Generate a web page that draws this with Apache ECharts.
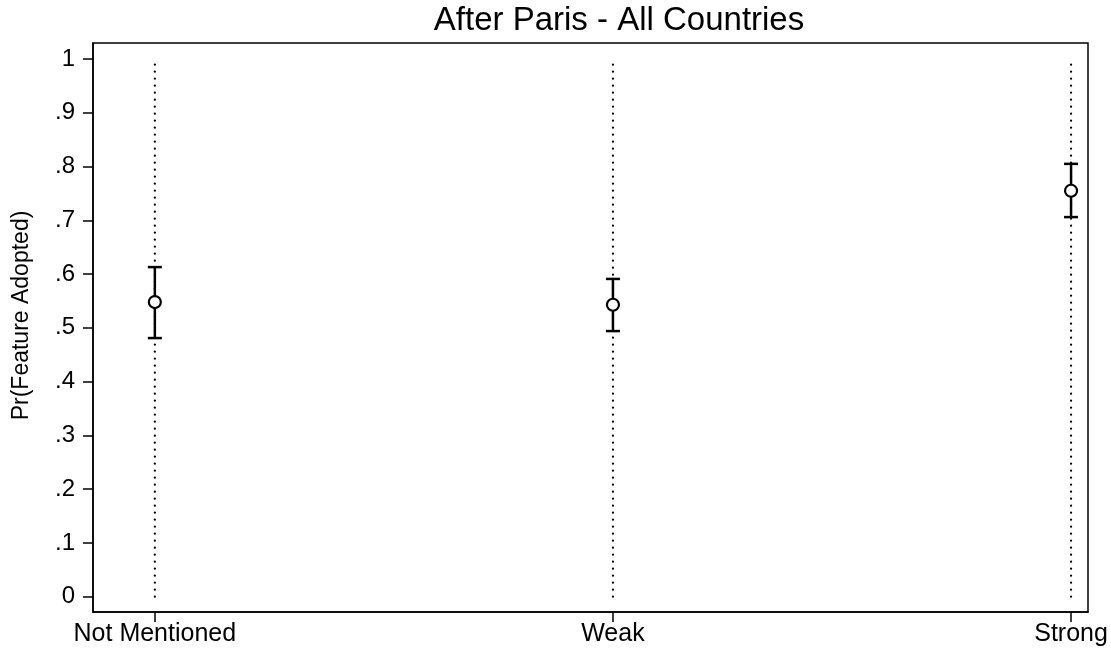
<!DOCTYPE html>
<html><head><meta charset="utf-8">
<script src="https://cdn.jsdelivr.net/npm/echarts@6/dist/echarts.min.js"></script>
<style>html,body{margin:0;padding:0;background:#fff}#c{width:1111px;height:652px}</style>
</head><body><div id="c"></div>
<script>
const categories = ['Not Mentioned', 'Weak', 'Strong'];
const estimates = [0.548, 0.543, 0.755];
const lowerCI = [0.481, 0.494, 0.706];
const upperCI = [0.613, 0.591, 0.805];
const yTicks = [0, 0.1, 0.2, 0.3, 0.4, 0.5, 0.6, 0.7, 0.8, 0.9, 1];
const title = 'After Paris - All Countries';
const yName = 'Pr(Feature Adopted)';

const font = 'Liberation Sans, Arial, Helvetica, sans-serif';
const chart = echarts.init(document.getElementById('c'), null, {renderer: 'canvas'});

const dotted = categories.map((c, i) => ({
  type: 'line', data: [[i, 0], [i, 1]], symbol: 'none', silent: true,
  lineStyle: {color: '#000', width: 2.2, type: [0.1, 6.9], cap: 'round'}, z: 1
}));

chart.setOption({
  animation: false,
  title: {text: title, left: 614, top: -1, textAlign: 'center',
    textStyle: {fontFamily: font, fontSize: 33, fontWeight: 'normal', color: '#000'}},
  grid: {left: 93, right: 23, top: 43, bottom: 40, show: true, borderColor: '#000', borderWidth: 1.5},
  xAxis: {type: 'value', min: -0.135, max: 2.037,
    axisLine: {show: true, onZero: false, lineStyle: {color: '#000', width: 1.5}},
    axisTick: {show: true, length: 10, lineStyle: {color: '#000', width: 1.5}, customValues: [0, 1, 2]},
    axisLabel: {customValues: [0, 1, 2], formatter: v => categories[Math.round(v)], fontFamily: font, fontSize: 25, color: '#000', margin: 10},
    splitLine: {show: false}},
  yAxis: {type: 'value', min: -0.0285, max: 1.0298,
    name: yName, nameLocation: 'middle', nameGap: 60, nameRotate: 90,
    nameTextStyle: {fontFamily: font, fontSize: 23, color: '#000', padding: [0, 0, 0, 24]},
    axisLine: {show: true, onZero: false, lineStyle: {color: '#000', width: 1.5}},
    axisTick: {show: true, length: 10, lineStyle: {color: '#000', width: 1.5}, customValues: yTicks},
    axisLabel: {customValues: yTicks, fontFamily: font, fontSize: 24, color: '#000', margin: 18,
      formatter: v => { const s = (Math.round(v * 10) / 10).toString(); return s.replace(/^0\./, '.'); }},
    splitLine: {show: false}},
  series: dotted.concat([
    {type: 'custom', z: 3,
     data: categories.map((c, i) => [i, lowerCI[i], upperCI[i]]),
     renderItem: function (params, api) {
       const x = api.value(0);
       const lo = api.coord([x, api.value(1)]);
       const hi = api.coord([x, api.value(2)]);
       const hw = 7;
       const st = {stroke: '#000', lineWidth: 2.5, fill: null};
       return {type: 'group', children: [
         {type: 'line', shape: {x1: lo[0], y1: lo[1], x2: hi[0], y2: hi[1]}, style: st},
         {type: 'line', shape: {x1: lo[0] - hw, y1: lo[1], x2: lo[0] + hw, y2: lo[1]}, style: st},
         {type: 'line', shape: {x1: hi[0] - hw, y1: hi[1], x2: hi[0] + hw, y2: hi[1]}, style: st}
       ]};
     }},
    {type: 'scatter', z: 4, symbol: 'circle', symbolSize: 12,
     itemStyle: {color: '#fff', borderColor: '#000', borderWidth: 2.2, opacity: 1},
     data: categories.map((c, i) => [i, estimates[i]])}
  ])
});
</script></body></html>
